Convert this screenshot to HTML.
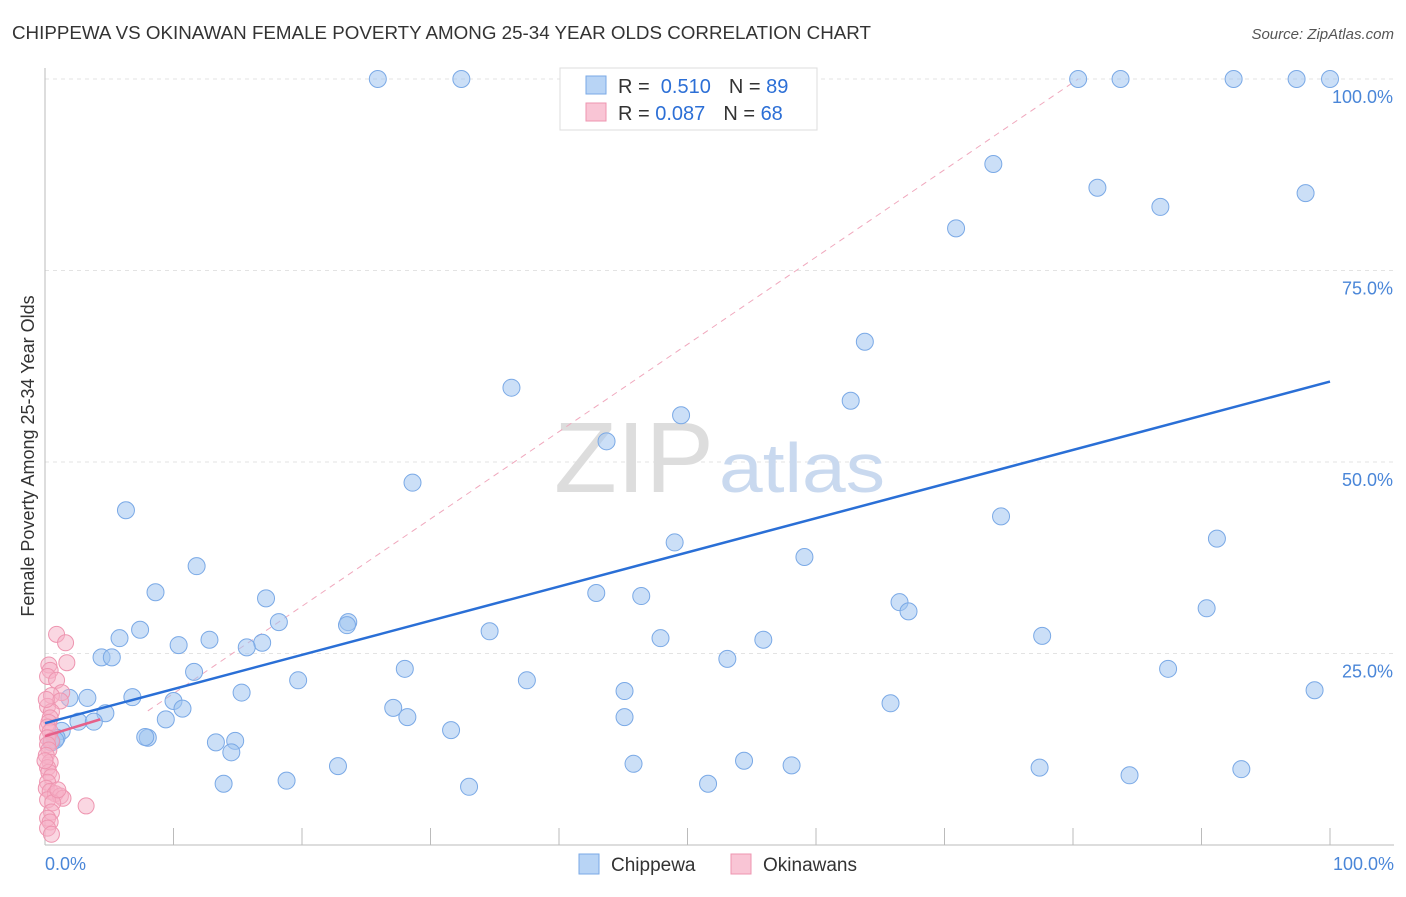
<!DOCTYPE html>
<html><head><meta charset="utf-8"><style>
body{margin:0;background:#fff;font-family:"Liberation Sans",sans-serif;}
svg text{font-family:"Liberation Sans",sans-serif;}
</style></head><body>
<svg id="chart" width="1406" height="892">
<text x="12" y="39" font-size="18" fill="#333" textLength="859" lengthAdjust="spacingAndGlyphs">CHIPPEWA VS OKINAWAN FEMALE POVERTY AMONG 25-34 YEAR OLDS CORRELATION CHART</text>
<text x="1394" y="39" font-size="15" fill="#555" text-anchor="end" font-style="italic">Source: ZipAtlas.com</text>
<g id="grid"></g>
<text x="634" y="492" font-size="100" fill="#ddd" font-family="Liberation Serif" text-anchor="middle" textLength="160" lengthAdjust="spacingAndGlyphs">ZIP</text>
<text x="802" y="492" font-size="70" fill="#c9d9ef" text-anchor="middle" textLength="166" lengthAdjust="spacingAndGlyphs">atlas</text>
<text transform="translate(34,456) rotate(-90)" font-size="18" fill="#333" text-anchor="middle">Female Poverty Among 25-34 Year Olds</text>
<g id="marks"></g>
<g>
<rect x="560" y="68" width="257" height="62" fill="#fff" stroke="#ddd"/>
<rect x="586" y="76" width="20" height="18" fill="#b8d4f5" stroke="#7aa9e6"/>
<rect x="586" y="103" width="20" height="18" fill="#f9c5d5" stroke="#ee95b0"/>
<text x="618" y="93" font-size="20" fill="#333">R = <tspan fill="#2c6fd6">&#160;0.510</tspan><tspan dx="18">N = </tspan><tspan fill="#2c6fd6">89</tspan></text>
<text x="618" y="120" font-size="20" fill="#333">R = <tspan fill="#2c6fd6">0.087</tspan><tspan dx="18">N = </tspan><tspan fill="#2c6fd6">68</tspan></text>
</g>
<g>
<rect x="579" y="854" width="20" height="20" fill="#b8d4f5" stroke="#7aa9e6"/>
<text x="611" y="871" font-size="19" fill="#333">Chippewa</text>
<rect x="731" y="854" width="20" height="20" fill="#f9c5d5" stroke="#ee95b0"/>
<text x="763" y="871" font-size="19" fill="#333">Okinawans</text>
</g>
</svg>
<script>
const yTicks=[25,50,75,100];
const yTickLabels=["25.0%","50.0%","75.0%","100.0%"];
const xTickLabels=["0.0%","100.0%"];
const blueX=[25.9,32.4,80.4,83.7,92.5,97.4,100,73.8,81.9,86.8,98.1,70.9,63.8,62.7,36.3,49.5,43.7,28.6,6.3,74.4,91.2,49,59.1,11.8,8.6,42.9,46.4,17.2,66.5,67.2,90.4,18.2,23.6,23.5,7.4,34.6,5.8,77.6,47.9,10.4,12.8,55.9,16.9,15.7,4.4,5.2,53.1,28,87.4,11.6,19.7,37.5,98.8,15.3,45.1,6.8,3.3,1.9,10,65.8,10.7,27.1,28.2,45.1,4.7,9.4,2.6,3.8,1.3,0.9,0.5,31.6,8,7.8,13.3,14.8,14.5,22.8,45.8,54.4,58.1,77.4,93.1,84.4,51.6,18.8,13.9,33,0.8];
const blueY=[100,100,100,100,100,100,100,88.9,85.8,83.3,85.1,80.5,65.7,58,59.7,56.1,52.7,47.3,43.7,42.9,40,39.5,37.6,36.4,33,32.9,32.5,32.2,31.7,30.5,30.9,29.1,29.1,28.7,28.1,27.9,27,27.3,27,26.1,26.8,26.8,26.4,25.8,24.5,24.5,24.3,23,23,22.6,21.5,21.5,20.2,19.9,20.1,19.3,19.2,19.2,18.8,18.5,17.8,17.9,16.7,16.7,17.2,16.4,16.1,16.1,14.9,14,13.4,15,14,14.1,13.4,13.6,12.1,10.3,10.6,11,10.4,10.1,9.9,9.1,8.0,8.4,8.0,7.6,13.7];
const pinkX=[0.9,1.6,1.7,0.3,0.4,0.2,0.9,1.3,0.5,1.2,0.2,0.5,0.4,0.3,0.2,0.4,0.2,0.5,0.2,0.3,0.1,0.4,0.2,0.3,0.5,0.2,0.1,0.4,0.8,1.2,1.4,0.2,0.6,3.2,0.5,0.2,0.4,0.2,0.5,1,0,0.1];
const pinkY=[27.5,26.4,23.8,23.5,22.8,22,21.5,19.9,19.5,18.8,18.1,17.4,16.6,16.0,15.4,14.8,14,13.6,13.1,12.4,11.7,10.8,10.1,9.5,8.9,8.2,7.4,7.0,6.7,6.4,6.1,5.9,5.5,5.1,4.3,3.5,3.0,2.2,1.4,7.2,11,19]; 
const blueTrend=[15.9,60.5];
const pinkTrend=[14.2,16.4,4.3];
const L=45,R=1330,T=79,B=845;
const sx=v=>L+(R-L)*v/100, sy=v=>B-(B-T)*v/100;
const NS="http://www.w3.org/2000/svg";
const grid=document.getElementById('grid'), marks=document.getElementById('marks');
function mk(tag,attrs,parent){const e=document.createElementNS(NS,tag);for(const k in attrs)e.setAttribute(k,attrs[k]);parent.appendChild(e);return e;}
yTicks.forEach((t,i)=>{
 const g=mk('line',{x1:L,x2:1394,y1:sy(t),y2:sy(t),stroke:'#e3e3e3','stroke-dasharray':'4,4'},grid);
 
 
 const tx=mk('text',{x:1393,y:sy(t)+24,'font-size':18,fill:'#4a86d8','text-anchor':'end'},grid);
 tx.textContent=yTickLabels[i];
 
 
});
const ax=mk('line',{x1:L,x2:L,y1:68,y2:B,stroke:'#bbb'},grid);


const bx=mk('line',{x1:L,x2:1394,y1:B,y2:B,stroke:'#bbb'},grid);


for(let i=1;i<=10;i++){const t=mk('line',{x1:sx(i*10),x2:sx(i*10),y1:828,y2:B,stroke:'#bbb'},grid);
 
 }
[[0,'start',45],[100,'end',1394]].forEach((d,i)=>{const t=mk('text',{x:d[2],y:870,'font-size':18,fill:'#4a86d8','text-anchor':d[1]},grid);t.textContent=xTickLabels[i];
 
 });
const dl=mk('line',{x1:sx(8),y1:sy(17.5),x2:sx(80.4),y2:sy(100),stroke:'#f0a8bd','stroke-dasharray':'6,5','stroke-width':1},marks);


blueX.forEach((x,i)=>{const c=mk('circle',{cx:sx(x),cy:sy(blueY[i]),r:8.5,fill:'rgba(160,196,240,0.55)',stroke:'#7aa9e6','stroke-width':1},marks);
 
 });
pinkX.forEach((x,i)=>{const c=mk('circle',{cx:sx(x),cy:sy(pinkY[i]),r:8,fill:'rgba(246,176,198,0.5)',stroke:'#ee95b0','stroke-width':1},marks);
 
 });
const bt=mk('line',{x1:sx(0),y1:sy(blueTrend[0]),x2:sx(100),y2:sy(blueTrend[1]),stroke:'#2a6fd6','stroke-width':2.5},marks);


const pt=mk('line',{x1:sx(0),y1:sy(pinkTrend[0]),x2:sx(pinkTrend[2]),y2:sy(pinkTrend[1]),stroke:'#e6608a','stroke-width':2.5},marks);


</script>
</body></html>
